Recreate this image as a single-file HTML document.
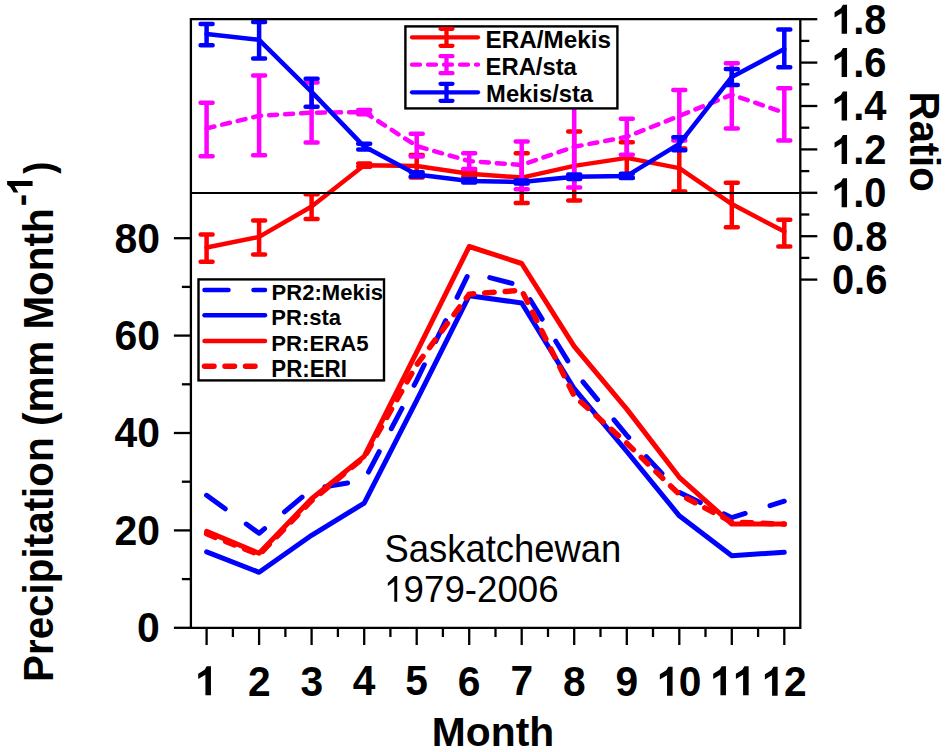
<!DOCTYPE html><html><head><meta charset="utf-8"><style>html,body{margin:0;padding:0;background:#fff;overflow:hidden}svg{display:block}</style></head><body>
<svg width="945" height="752" viewBox="0 0 945 752" font-family="Liberation Sans, sans-serif">
<rect width="945" height="752" fill="#fff"/>
<g fill="none" stroke-linejoin="round" stroke-linecap="round" stroke-width="5">
<polyline points="206.6,495.3 259.1,533.3 311.6,489.0 364.2,480.2 416.7,380.4 469.2,272.3 521.7,285.9 574.2,371.2 626.8,435.4 679.3,492.4 731.8,517.7 784.3,501.2" stroke="#0000ff" stroke-dasharray="23 26"/>
<polyline points="206.6,551.8 259.1,572.3 311.6,535.3 364.2,503.1 416.7,400.4 469.2,295.7 521.7,303.0 574.2,388.7 626.8,451.5 679.3,515.8 731.8,555.7 784.3,552.3" stroke="#0000ff"/>
<polyline points="206.6,531.4 259.1,553.3 311.6,498.7 364.2,456.4 416.7,352.2 469.2,246.5 521.7,263.5 574.2,346.3 626.8,409.1 679.3,477.3 731.8,524.1 784.3,524.1" stroke="#ff0000"/>
<polyline points="206.6,533.8 259.1,554.8 311.6,500.7 364.2,457.3 416.7,364.8 469.2,294.2 521.7,290.3 574.2,396.0 626.8,443.2 679.3,494.4 731.8,522.1 784.3,524.1" stroke="#ff0000" stroke-width="5.5" stroke-dasharray="9.5 11" stroke-linecap="round"/>
</g>
<g stroke="#ff0000" fill="none" stroke-width="4.5" stroke-linecap="round" stroke-linejoin="round"><polyline points="206.6,247.5 259.1,236.9 311.6,206.5 364.2,165.2 416.7,166.1 469.2,173.7 521.7,177.6 574.2,165.9 626.8,157.9 679.3,168.1 731.8,204.1 784.3,231.6"/><path d="M206.6 234.5V261.8M200.6 234.5H212.6M200.6 261.8H212.6"/><path d="M259.1 220.4V254.4M253.1 220.4H265.1M253.1 254.4H265.1"/><path d="M311.6 194.3V219.1M305.6 194.3H317.6M305.6 219.1H317.6"/><path d="M364.2 163.5V166.8M358.2 163.5H370.2M358.2 166.8H370.2"/><path d="M416.7 155.0V177.6M410.7 155.0H422.7M410.7 177.6H422.7"/><path d="M469.2 171.1V176.5M463.2 171.1H475.2M463.2 176.5H475.2"/><path d="M521.7 153.3V203.0M515.7 153.3H527.7M515.7 203.0H527.7"/><path d="M574.2 131.4V200.6M568.2 131.4H580.2M568.2 200.6H580.2"/><path d="M626.8 142.2V177.8M620.8 142.2H632.8M620.8 177.8H632.8"/><path d="M679.3 148.5V191.5M673.3 148.5H685.3M673.3 191.5H685.3"/><path d="M731.8 182.8V227.3M725.8 182.8H737.8M725.8 227.3H737.8"/><path d="M784.3 219.7V246.4M778.3 219.7H790.3M778.3 246.4H790.3"/></g>
<g stroke="#ff00ff" fill="none" stroke-width="4.5" stroke-linecap="round" stroke-linejoin="round"><polyline points="206.6,128.4 259.1,115.8 311.6,112.7 364.2,112.1 416.7,146.1 469.2,161.1 521.7,165.0 574.2,146.8 626.8,136.8 679.3,116.0 731.8,94.7 784.3,112.7" stroke-dasharray="8 8"/><path d="M206.6 102.7V156.3M200.6 102.7H212.6M200.6 156.3H212.6"/><path d="M259.1 75.4V155.3M253.1 75.4H265.1M253.1 155.3H265.1"/><path d="M311.6 82.6V142.5M305.6 82.6H317.6M305.6 142.5H317.6"/><path d="M364.2 109.9V114.2M358.2 109.9H370.2M358.2 114.2H370.2"/><path d="M416.7 133.8V156.6M410.7 133.8H422.7M410.7 156.6H422.7"/><path d="M469.2 153.3V169.1M463.2 153.3H475.2M463.2 169.1H475.2"/><path d="M521.7 141.6V189.3M515.7 141.6H527.7M515.7 189.3H527.7"/><path d="M574.2 106.0V187.4M568.2 106.0H580.2M568.2 187.4H580.2"/><path d="M626.8 118.8V154.8M620.8 118.8H632.8M620.8 154.8H632.8"/><path d="M679.3 89.9V140.5M673.3 89.9H685.3M673.3 140.5H685.3"/><path d="M731.8 63.3V128.4M725.8 63.3H737.8M725.8 128.4H737.8"/><path d="M784.3 88.2V140.5M778.3 88.2H790.3M778.3 140.5H790.3"/></g>
<g stroke="#0000ff" fill="none" stroke-width="4.5" stroke-linecap="round" stroke-linejoin="round"><polyline points="206.6,34.0 259.1,39.8 311.6,91.9 364.2,146.6 416.7,174.4 469.2,180.9 521.7,181.9 574.2,176.7 626.8,175.9 679.3,143.8 731.8,76.9 784.3,49.1"/><path d="M206.6 24.0V45.2M200.6 24.0H212.6M200.6 45.2H212.6"/><path d="M259.1 22.0V58.5M253.1 22.0H265.1M253.1 58.5H265.1"/><path d="M311.6 78.7V106.7M305.6 78.7H317.6M305.6 106.7H317.6"/><path d="M364.2 143.8V149.6M358.2 143.8H370.2M358.2 149.6H370.2"/><path d="M416.7 172.2V176.5M410.7 172.2H422.7M410.7 176.5H422.7"/><path d="M469.2 179.3V182.6M463.2 179.3H475.2M463.2 182.6H475.2"/><path d="M521.7 180.4V183.5M515.7 180.4H527.7M515.7 183.5H527.7"/><path d="M574.2 174.6V178.9M568.2 174.6H580.2M568.2 178.9H580.2"/><path d="M626.8 173.7V178.0M620.8 173.7H632.8M620.8 178.0H632.8"/><path d="M679.3 137.2V150.3M673.3 137.2H685.3M673.3 150.3H685.3"/><path d="M731.8 68.9V85.0M725.8 68.9H737.8M725.8 85.0H737.8"/><path d="M784.3 29.6V67.2M778.3 29.6H790.3M778.3 67.2H790.3"/></g>
<g stroke="#000" stroke-width="2.3" fill="none">
<path d="M190.9 19.2H800.3V627.8H190.9Z"/>
<path d="M190.9 193H800.3" stroke-width="2"/>
<path d="M206.6 627.8V645"/>
<path d="M232.9 627.8V637"/>
<path d="M259.1 627.8V645"/>
<path d="M285.4 627.8V637"/>
<path d="M311.6 627.8V645"/>
<path d="M337.9 627.8V637"/>
<path d="M364.2 627.8V645"/>
<path d="M390.4 627.8V637"/>
<path d="M416.7 627.8V645"/>
<path d="M442.9 627.8V637"/>
<path d="M469.2 627.8V645"/>
<path d="M495.5 627.8V637"/>
<path d="M521.7 627.8V645"/>
<path d="M548.0 627.8V637"/>
<path d="M574.2 627.8V645"/>
<path d="M600.5 627.8V637"/>
<path d="M626.8 627.8V645"/>
<path d="M653.0 627.8V637"/>
<path d="M679.3 627.8V645"/>
<path d="M705.5 627.8V637"/>
<path d="M731.8 627.8V645"/>
<path d="M758.1 627.8V637"/>
<path d="M784.3 627.8V645"/>
<path d="M190.9 627.8H173.9"/>
<path d="M190.9 579.1H181.9"/>
<path d="M190.9 530.4H173.9"/>
<path d="M190.9 481.7H181.9"/>
<path d="M190.9 433.0H173.9"/>
<path d="M190.9 384.3H181.9"/>
<path d="M190.9 335.6H173.9"/>
<path d="M190.9 286.9H181.9"/>
<path d="M190.9 238.2H173.9"/>
<path d="M800.3 279.6H817.3"/>
<path d="M800.3 257.9H809.3"/>
<path d="M800.3 236.2H817.3"/>
<path d="M800.3 214.5H809.3"/>
<path d="M800.3 192.8H817.3"/>
<path d="M800.3 171.1H809.3"/>
<path d="M800.3 149.4H817.3"/>
<path d="M800.3 127.7H809.3"/>
<path d="M800.3 106.0H817.3"/>
<path d="M800.3 84.3H809.3"/>
<path d="M800.3 62.6H817.3"/>
<path d="M800.3 40.9H809.3"/>
<path d="M800.3 19.2H817.3"/>
</g>
<g>
<g transform="matrix(0.9700 0 0 1 194.58 695.27)" font-size="42.00" font-weight="bold"><path d="M16.88 0.00L16.88 -28.94L12.52 -28.94L10.37 -25.49L3.74 -21.50L3.74 -16.21L11.17 -20.45L11.17 0.00Z"/></g>
<g transform="matrix(0.9700 0 0 1 247.92 695.69)" font-size="42.00" font-weight="bold"><text x="0.00" y="0">2</text></g>
<g transform="matrix(0.9700 0 0 1 300.59 695.69)" font-size="42.00" font-weight="bold"><text x="0.00" y="0">3</text></g>
<g transform="matrix(0.9700 0 0 1 352.65 695.27)" font-size="42.00" font-weight="bold"><text x="0.00" y="0">4</text></g>
<g transform="matrix(0.9700 0 0 1 405.32 695.27)" font-size="42.00" font-weight="bold"><text x="0.00" y="0">5</text></g>
<g transform="matrix(0.9700 0 0 1 457.84 695.69)" font-size="42.00" font-weight="bold"><text x="0.00" y="0">6</text></g>
<g transform="matrix(0.9700 0 0 1 510.41 695.27)" font-size="42.00" font-weight="bold"><text x="0.00" y="0">7</text></g>
<g transform="matrix(0.9700 0 0 1 562.88 695.69)" font-size="42.00" font-weight="bold"><text x="0.00" y="0">8</text></g>
<g transform="matrix(0.9700 0 0 1 615.45 695.69)" font-size="42.00" font-weight="bold"><text x="0.00" y="0">9</text></g>
<g transform="matrix(0.9700 0 0 1 656.21 695.69)" font-size="42.00" font-weight="bold"><path d="M16.88 0.00L16.88 -28.94L12.52 -28.94L10.37 -25.49L3.74 -21.50L3.74 -16.21L11.17 -20.45L11.17 0.00Z"/><text x="23.36" y="0">0</text></g>
<g transform="matrix(0.9700 0 0 1 709.60 695.27)" font-size="42.00" font-weight="bold"><path d="M16.88 0.00L16.88 -28.94L12.52 -28.94L10.37 -25.49L3.74 -21.50L3.74 -16.21L11.17 -20.45L11.17 0.00Z"/><path d="M40.24 0.00L40.24 -28.94L35.88 -28.94L33.73 -25.49L27.10 -21.50L27.10 -16.21L34.53 -20.45L34.53 0.00Z"/></g>
<g transform="matrix(0.9700 0 0 1 761.25 695.69)" font-size="42.00" font-weight="bold"><path d="M16.88 0.00L16.88 -28.94L12.52 -28.94L10.37 -25.49L3.74 -21.50L3.74 -16.21L11.17 -20.45L11.17 0.00Z"/><text x="23.36" y="0">2</text></g>
<text transform="matrix(0.9750 0 0 1 137.11 642.24)" font-size="42.00" font-weight="bold" fill="#000">0</text>
<text transform="matrix(0.9750 0 0 1 114.38 544.84)" font-size="42.00" font-weight="bold" fill="#000">20</text>
<text transform="matrix(0.9750 0 0 1 114.38 447.44)" font-size="42.00" font-weight="bold" fill="#000">40</text>
<text transform="matrix(0.9750 0 0 1 114.38 350.04)" font-size="42.00" font-weight="bold" fill="#000">60</text>
<text transform="matrix(0.9750 0 0 1 114.38 252.64)" font-size="42.00" font-weight="bold" fill="#000">80</text>
<g transform="matrix(0.9500 0 0 1 831.90 294.04)" font-size="42.00" font-weight="bold"><text x="0.00" y="0">0.6</text></g>
<g transform="matrix(0.9500 0 0 1 831.90 250.64)" font-size="42.00" font-weight="bold"><text x="0.00" y="0">0.8</text></g>
<g transform="matrix(0.9500 0 0 1 831.01 207.24)" font-size="42.00" font-weight="bold"><path d="M16.88 0.00L16.88 -28.94L12.52 -28.94L10.37 -25.49L3.74 -21.50L3.74 -16.21L11.17 -20.45L11.17 0.00Z"/><text x="23.36" y="0">.0</text></g>
<g transform="matrix(0.9500 0 0 1 831.01 164.05)" font-size="42.00" font-weight="bold"><path d="M16.88 0.00L16.88 -28.94L12.52 -28.94L10.37 -25.49L3.74 -21.50L3.74 -16.21L11.17 -20.45L11.17 0.00Z"/><text x="23.36" y="0">.2</text></g>
<g transform="matrix(0.9500 0 0 1 831.01 120.44)" font-size="42.00" font-weight="bold"><path d="M16.88 0.00L16.88 -28.94L12.52 -28.94L10.37 -25.49L3.74 -21.50L3.74 -16.21L11.17 -20.45L11.17 0.00Z"/><text x="23.36" y="0">.4</text></g>
<g transform="matrix(0.9500 0 0 1 831.01 77.04)" font-size="42.00" font-weight="bold"><path d="M16.88 0.00L16.88 -28.94L12.52 -28.94L10.37 -25.49L3.74 -21.50L3.74 -16.21L11.17 -20.45L11.17 0.00Z"/><text x="23.36" y="0">.6</text></g>
<g transform="matrix(0.9500 0 0 1 831.01 33.64)" font-size="42.00" font-weight="bold"><path d="M16.88 0.00L16.88 -28.94L12.52 -28.94L10.37 -25.49L3.74 -21.50L3.74 -16.21L11.17 -20.45L11.17 0.00Z"/><text x="23.36" y="0">.8</text></g>
</g>
<text transform="matrix(0.9996 0 0 1 431.85 746.39)" font-size="40.82" font-weight="bold" fill="#000">Month</text>
<text transform="matrix(0 0.9564 -1 0 909.60 91.39)" font-size="42" font-weight="bold">Ratio</text>
<text transform="matrix(0 -0.9624 1 0 53.30 682.03)" font-size="42" font-weight="bold">Precipitation (mm Month</text>
<g transform="matrix(0 -1 1 0 32.60 206.15)" font-size="37" font-weight="bold"><text x="0" y="0">-</text><path d="M25.15 0.00L25.15 -25.49L21.30 -25.49L19.41 -22.46L13.56 -18.94L13.56 -14.28L20.11 -18.02L20.11 0.00Z"/></g>
<text transform="matrix(0 -0.9 1 0 53.20 173.64)" font-size="40" font-weight="bold">)</text>
<text transform="matrix(0.9564 0 0 1 384.46 561.62)" font-size="38.10" fill="#000">Saskatchewan</text>
<path d="M397.2 601.8V576H394.9L387.8 583.1V585.9L394.3 581.4V601.8Z"/>
<text transform="matrix(1.0028 0 0 1 403.56 601.53)" font-size="36.61" fill="#000">979-2006</text>
<rect x="405.4" y="26.4" width="212" height="82" fill="#fff" stroke="#000" stroke-width="2.4"/>
<g stroke="#ff0000" stroke-width="4.3" stroke-linecap="round" fill="none"><path d="M412 37.3H478"/><path d="M446.5 28.8V45.8M440.5 28.8H452.5M440.5 45.8H452.5"/></g>
<g stroke="#ff00ff" stroke-width="4.3" stroke-linecap="round" fill="none"><path d="M412 64.7H478" stroke-dasharray="8 8"/><path d="M446.5 56.2V73.2M440.5 56.2H452.5M440.5 73.2H452.5"/></g>
<g stroke="#0000ff" stroke-width="4.3" stroke-linecap="round" fill="none"><path d="M412 92.3H478"/><path d="M446.5 83.8V100.8M440.5 83.8H452.5M440.5 100.8H452.5"/></g>
<text transform="matrix(1.0512 0 0 1 485.56 47.64)" font-size="23.09" font-weight="bold" fill="#000">ERA/Mekis</text>
<text transform="matrix(1.0310 0 0 1 485.59 75.04)" font-size="23.09" font-weight="bold" fill="#000">ERA/sta</text>
<text transform="matrix(1.0296 0 0 1 486.10 102.44)" font-size="23.09" font-weight="bold" fill="#000">Mekis/sta</text>
<rect x="198.5" y="279.4" width="185.5" height="101" fill="#fff" stroke="#000" stroke-width="2.4"/>
<g stroke-width="4.5" stroke-linecap="round" fill="none">
<path d="M204.5 290H265" stroke="#0000ff" stroke-dasharray="24 25"/>
<path d="M204.5 315.3H265" stroke="#0000ff"/>
<path d="M204.5 340.9H265" stroke="#ff0000"/>
<path d="M204.5 366.2H256" stroke="#ff0000" stroke-width="5.5" stroke-dasharray="9.5 11"/>
</g>
<text transform="matrix(1.0262 0 0 1 271.61 299.99)" font-size="21.50" font-weight="bold" fill="#000">PR2:Mekis</text>
<text transform="matrix(0.9842 0 0 1 271.31 325.48)" font-size="22.37" font-weight="bold" fill="#000">PR:sta</text>
<text transform="matrix(0.9729 0 0 1 271.30 350.77)" font-size="22.80" font-weight="bold" fill="#000">PR:ERA5</text>
<text transform="matrix(0.9584 0 0 1 271.29 376.60)" font-size="23.27" font-weight="bold" fill="#000">PR:ERI</text>
</svg></body></html>
